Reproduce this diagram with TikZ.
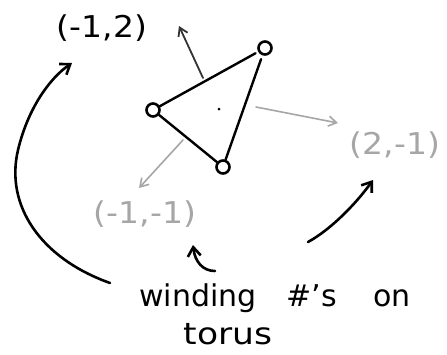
\documentclass[tikz,border=0pt]{standalone}
\usepackage{fontspec}
\setmainfont{DejaVu Sans}
\usetikzlibrary{arrows.meta}
\begin{document}
\begin{tikzpicture}[x=1pt,y=-1pt,
  vtx/.style={circle,draw=black,line width=2.6pt,minimum size=13pt,inner sep=0pt},
  edge/.style={line width=2.4pt,black,line cap=round},
  normal/.style={line width=1.6pt,gray!70,line cap=round,-{Straight Barb[length=8pt,width=10pt]}},
  normalk/.style={line width=1.8pt,black!80,line cap=round,-{Straight Barb[length=8pt,width=10pt]}},
  big/.style={line width=2.6pt,black,line cap=round,-{Straight Barb[length=9pt,width=13pt,line width=2.6pt]}},
  lab/.style={font=\fontsize{30}{34}\selectfont,inner sep=0pt,xscale=1.1},
  hand/.style={font=\fontsize{30}{34}\selectfont,inner sep=0pt}]
\useasboundingbox (0,0) rectangle (447,354);
% vertices
\node[vtx] (A) at (265,48) {};
\node[vtx] (B) at (153,110) {};
\node[vtx] (C) at (223,167) {};
\node[circle,fill=black,inner sep=0pt,minimum size=3pt] (O) at (219,109) {};
% edges
\draw[edge,shorten >=3pt] (B) -- (A);
\draw[edge,shorten <=4pt] (A) -- (C);
\draw[edge] (B) -- (C);
% midpoints of edges
\coordinate (mAB) at (203,78);
\coordinate (mAC) at (256,107);
\coordinate (mBC) at (183,140);
% normal arrow ends
\coordinate (nAB) at (179,26);
\coordinate (nAC) at (338,123);
\coordinate (nBC) at (139,188);
\draw[normalk] (mAB) -- (nAB);
\draw[normal] (mAC) -- (nAC);
\draw[normal] (mBC) -- (nBC);
% labels
\node[lab] (l1) at (102,28) {(-1,2)};
\node[lab,text=gray!70] (l2) at (395,145) {(2,-1)};
\node[lab,text=gray!70] (l3) at (145,214) {(-1,-1)};
% text
\node[hand,anchor=base] (w1) at (198,306) {winding};
\node[hand,anchor=base] (w2) at (312,306) {\#'s};
\node[hand,anchor=base] (w3) at (392,306) {on};
\node[hand,anchor=base,xscale=1.15] (w4) at (228,344) {torus};
% arrows from text
\coordinate (s1) at (110,283);
\coordinate (e1) at (72,63);
\draw[big] (s1) .. controls (40,258) and (5,205) .. (18,150)
  .. controls (28,108) and (50,78) .. (e1);
\coordinate (s2) at (215,271);
\coordinate (e2) at (193,245);
\draw[big] (s2) .. controls (203,271) and (195,262) .. (e2);
\coordinate (s3) at (308,242);
\coordinate (e3) at (373,180);
\draw[big] (s3) .. controls (330,230) and (355,205) .. (e3);
\end{tikzpicture}
\end{document}
